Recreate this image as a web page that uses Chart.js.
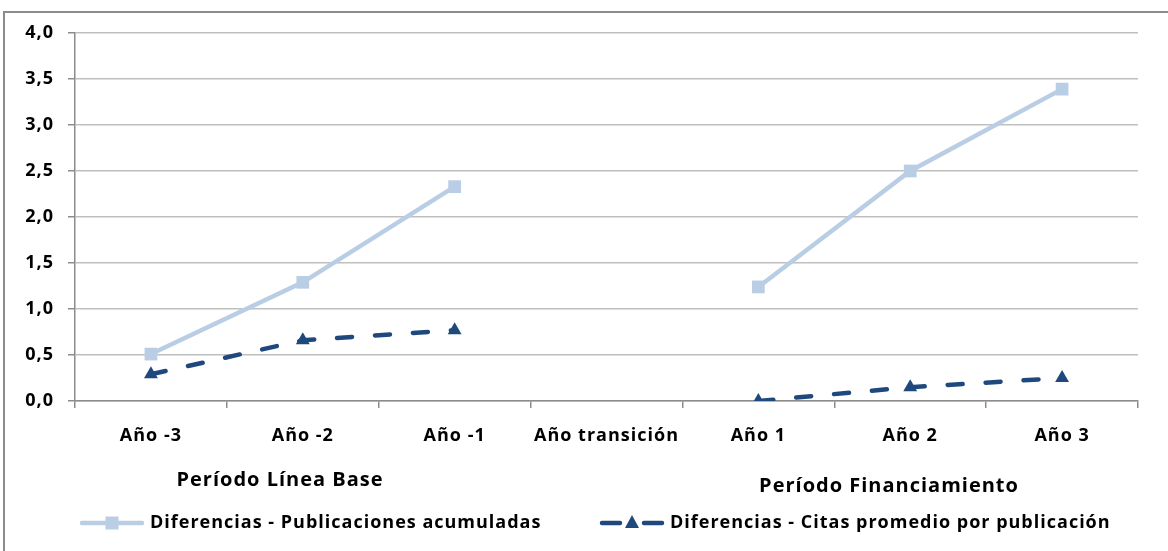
<!DOCTYPE html>
<html>
<head>
<meta charset="utf-8">
<script src="https://cdn.jsdelivr.net/npm/chart.js@4.4.0/dist/chart.umd.min.js"></script>
<style>
  html, body { margin: 0; padding: 0; background: #ffffff; }
  #wrap { width: 1168px; height: 551px; }
</style>
</head>
<body>
<div id="wrap"><canvas id="diferencias" width="1168" height="551"></canvas></div>
<script>
// categories and values
const years = ["Año -3", "Año -2", "Año -1", "Año transición", "Año 1", "Año 2", "Año 3"]
const publicaciones = [0.51, 1.29, 2.33, null, 1.24, 2.50, 3.39]
const citas = [0.29, 0.66, 0.77, null, 0.0, 0.15, 0.25]
const seriesNames = ["Diferencias - Publicaciones acumuladas", "Diferencias - Citas promedio por publicación"]
const periodNames = ["Período Línea Base", "Período Financiamiento"]

const FONT = "'Open Sans', 'Liberation Sans', sans-serif"
const lightBlue = "#b9cde5"
const darkBlue = "#1f497d"

/**
 * draws the outer frame, the period captions and the legend
 */
const extrasPlugin = {
  id: "extras",
  beforeDraw(chart) {
    // the reference text is loosely spaced
    chart.ctx.letterSpacing = "1px"
  },
  afterDraw(chart) {
    const ctx = chart.ctx
    ctx.save()

    // outer frame
    ctx.strokeStyle = "#8c8c8c"
    ctx.lineWidth = 2
    ctx.strokeRect(4, 12, 1200, 600)

    // period captions
    ctx.fillStyle = "#000"
    ctx.textBaseline = "middle"
    ctx.textAlign = "center"
    ctx.font = "bold 20px " + FONT
    ctx.fillText(periodNames[0], 280, 480)
    ctx.fillText(periodNames[1], 889, 486)

    // legend
    const items = [
      { x: 80, text: seriesNames[0], ds: chart.data.datasets[0], shape: "square" },
      { x: 600, text: seriesNames[1], ds: chart.data.datasets[1], shape: "triangle" }
    ]
    const ly = 523
    items.forEach(it => {
      ctx.save()
      ctx.strokeStyle = it.ds.borderColor
      ctx.lineWidth = it.ds.borderWidth
      ctx.lineCap = "round"
      ctx.beginPath()
      if (it.ds.borderDash) {
        ctx.moveTo(it.x + 2, ly)
        ctx.lineTo(it.x + 20, ly)
        ctx.moveTo(it.x + 44, ly)
        ctx.lineTo(it.x + 62, ly)
      } else {
        ctx.moveTo(it.x + 2, ly)
        ctx.lineTo(it.x + 62, ly)
      }
      ctx.stroke()
      ctx.fillStyle = it.ds.pointBackgroundColor
      const cx = it.x + 32
      if (it.shape === "square") {
        ctx.fillRect(cx - 6.5, ly - 6.5, 13, 13)
      } else {
        ctx.beginPath()
        ctx.moveTo(cx, ly - 8)
        ctx.lineTo(cx + 7, ly + 5)
        ctx.lineTo(cx - 7, ly + 5)
        ctx.closePath()
        ctx.fill()
      }
      ctx.restore()
      ctx.fillStyle = "#000"
      ctx.textAlign = "left"
      ctx.font = "bold 18px " + FONT
      ctx.fillText(it.text, it.x + 70, ly)
    })
    ctx.restore()
  }
}

const canvas = document.getElementById("diferencias")

new Chart(canvas.getContext("2d"), {
  type: "line",
  data: {
    labels: years,
    datasets: [
      {
        label: seriesNames[0],
        data: publicaciones,
        borderColor: lightBlue,
        backgroundColor: lightBlue,
        pointBackgroundColor: lightBlue,
        borderWidth: 4.5,
        pointStyle: "rect",
        pointRadius: 9,
        pointBorderWidth: 0,
        spanGaps: false
      },
      {
        label: seriesNames[1],
        data: citas,
        borderColor: darkBlue,
        backgroundColor: darkBlue,
        pointBackgroundColor: darkBlue,
        borderWidth: 4.5,
        borderDash: [15, 23],
        borderCapStyle: "round",
        pointStyle: "triangle",
        pointRadius: 8,
        pointBorderWidth: 0,
        spanGaps: false
      }
    ]
  },
  options: {
    responsive: false,
    animation: false,
    layout: {
      padding: { left: 0, right: 30, top: 33, bottom: 0 }
    },
    scales: {
      x: {
        offset: true,
        afterFit: scale => { scale.height = 150 },
        grid: {
          offset: true,
          drawOnChartArea: false,
          drawTicks: true,
          tickLength: 7,
          color: "#8c8c8c",
          lineWidth: 1.5
        },
        border: { color: "#8c8c8c", width: 1.5 },
        ticks: {
          color: "#000",
          padding: 17,
          font: { family: FONT, size: 18, weight: "bold" }
        }
      },
      y: {
        min: 0,
        max: 4,
        afterFit: scale => { scale.width = 75 },
        grid: {
          color: "#bfbfbf",
          lineWidth: 1.5,
          drawTicks: true,
          tickLength: 7,
          tickColor: "#8c8c8c"
        },
        border: { color: "#8c8c8c", width: 1.5 },
        ticks: {
          stepSize: 0.5,
          color: "#000",
          padding: 14,
          font: { family: FONT, size: 18, weight: "bold" },
          callback: v => v.toFixed(1).replace(".", ",")
        }
      }
    },
    plugins: {
      legend: { display: false },
      tooltip: { enabled: false }
    }
  },
  plugins: [extrasPlugin]
})
</script>
</body>
</html>
